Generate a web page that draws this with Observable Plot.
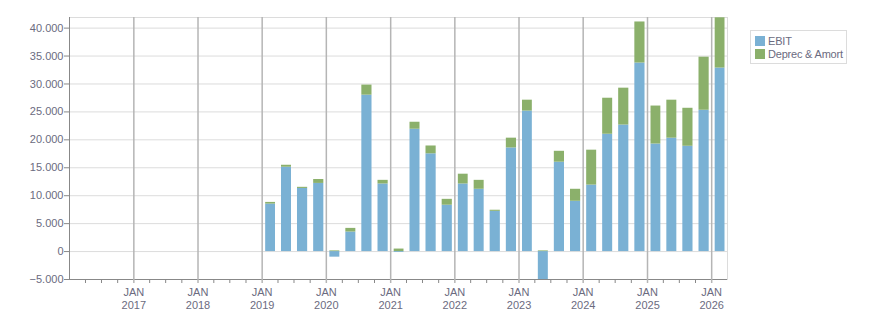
<!DOCTYPE html>
<html>
<head>
<meta charset="utf-8">
<script src="https://cdn.jsdelivr.net/npm/d3@7"></script>
<script src="https://cdn.jsdelivr.net/npm/@observablehq/plot@0.6"></script>
<style>
  body { margin: 0; background: #fff; }
  #chart { position: relative; width: 876px; height: 313px; font-family: "Liberation Sans", Arial, sans-serif; }
  .legend { position: absolute; left: 750px; top: 30px; border: 1px solid #dcdcdc; padding: 3px 3px 2px 4px; font-size: 11px; color: #6b6b80; background: #fff; }
  .legend .item { display: flex; align-items: center; height: 13.3px; white-space: nowrap; letter-spacing: -0.2px; }
  .legend .sw { width: 10px; height: 10px; margin-right: 3px; flex: none; }
</style>
</head>
<body>
<div id="chart"></div>
<script>
// Quarterly results (start of each quarter)
const quarters = [
  "2019-01-01", "2019-04-01", "2019-07-01", "2019-10-01",
  "2020-01-01", "2020-04-01", "2020-07-01", "2020-10-01",
  "2021-01-01", "2021-04-01", "2021-07-01", "2021-10-01",
  "2022-01-01", "2022-04-01", "2022-07-01", "2022-10-01",
  "2023-01-01", "2023-04-01", "2023-07-01", "2023-10-01",
  "2024-01-01", "2024-04-01", "2024-07-01", "2024-10-01",
  "2025-01-01", "2025-04-01", "2025-07-01", "2025-10-01",
  "2026-01-01"
];
const ebit = [
  8500, 15100, 11300, 12200,
  -1000, 3500, 28000, 12100,
  -150, 21900, 17500, 8300,
  12100, 11150, 7200, 18550,
  25150, -5000, 16000, 9000,
  11900, 21000, 22650, 33750,
  19250, 20300, 18850, 25300,
  32850
];
const deprecAmort = [
  300, 350, 200, 700,
  120, 650, 1800, 650,
  450, 1250, 1400, 1050,
  1750, 1600, 200, 1750,
  1950, 120, 1950, 2150,
  6250, 6450, 6600, 7350,
  6800, 6800, 6800, 9500,
  9000
];
const seriesNames = ["EBIT", "Deprec & Amort"];
const seriesColors = ["#7ab1d4", "#8bb06b"];

// Axis ticks
const yTicks = [-5000, 0, 5000, 10000, 15000, 20000, 25000, 30000, 35000, 40000];
const yearTicks = ["2017", "2018", "2019", "2020", "2021", "2022", "2023", "2024", "2025", "2026"];
const xStart = new Date("2016-01-01");
const xEnd = new Date("2026-04-01");

const textColor = "#6b6b80";
const axisColor = "#888888";

const rows = quarters.flatMap((q, i) => {
  const date = new Date(q);
  const end = d3.utcMonth.offset(date, 3);
  return [
    {date, end, series: seriesNames[0], value: ebit[i]},
    {date, end, series: seriesNames[1], value: deprecAmort[i]}
  ];
});

const yearDates = yearTicks.map(y => new Date(`${y}-01-01`));
const quarterDates = d3.utcMonth.every(3).range(xStart, xEnd)
  .filter(d => d.getUTCMonth() !== 0);

const fmt = v => d3.format(",")(v).replace(/,/g, ".");

const chart = Plot.plot({
  width: 876,
  height: 313,
  marginLeft: 69,
  marginRight: 149,
  marginTop: 17,
  marginBottom: 34,
  style: {fontFamily: "Liberation Sans, Arial, sans-serif", fontSize: "11px", background: "#fff", overflow: "visible"},
  x: {type: "utc", domain: [xStart, xEnd], axis: null, label: null},
  y: {domain: [-5000, 41900], axis: null, label: null},
  color: {domain: seriesNames, range: seriesColors},
  marks: [
    Plot.frame({stroke: "#dcdcdc"}),
    Plot.gridY(yTicks, {stroke: "#dcdcdc", strokeOpacity: 1}),
    Plot.gridX(yearDates, {stroke: "#b5b5b5", strokeOpacity: 1, strokeWidth: 1.5}),
    Plot.rectY(rows, Plot.stackY({
      x1: "date", x2: "end", y: "value", fill: "series",
      insetLeft: 3.5, insetRight: 2.5
    })),
    Plot.ruleY([-5000], {stroke: axisColor}),
    Plot.ruleX([xStart], {stroke: axisColor}),
    Plot.axisY(yTicks, {
      label: null, tickSize: 5, tickPadding: 1, stroke: axisColor, fill: textColor,
      tickFormat: fmt
    }),
    Plot.axisX(quarterDates, {label: null, tickSize: 4, stroke: axisColor, tickFormat: () => ""}),
    Plot.axisX(yearDates, {
      label: null, tickSize: 4, tickPadding: 3, stroke: "#b5b5b5", strokeWidth: 1.5,
      fill: textColor, lineHeight: 1.18,
      tickFormat: d => "JAN\n" + d.getUTCFullYear()
    })
  ]
});

const root = document.getElementById("chart");
root.appendChild(chart);

// Legend
const legend = document.createElement("div");
legend.className = "legend";
seriesNames.forEach((name, i) => {
  const item = document.createElement("div");
  item.className = "item";
  const sw = document.createElement("span");
  sw.className = "sw";
  sw.style.background = seriesColors[i];
  item.appendChild(sw);
  item.appendChild(document.createTextNode(name));
  legend.appendChild(item);
});
root.appendChild(legend);
</script>
</body>
</html>
